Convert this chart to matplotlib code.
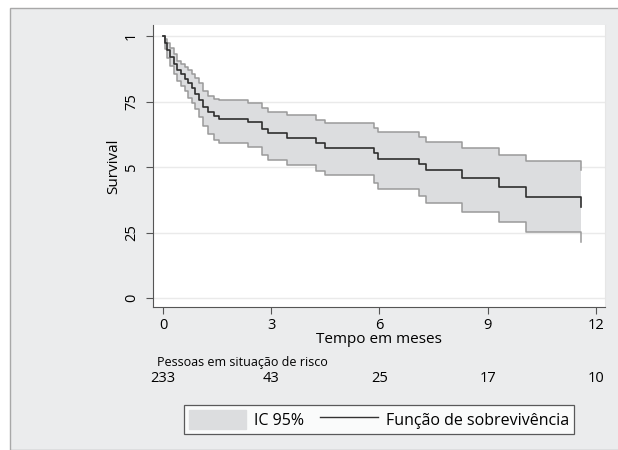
import matplotlib.pyplot as plt
from matplotlib.patches import Patch, Rectangle
from matplotlib.lines import Line2D

plt.rcParams['font.family'] = ['Open Sans', 'DejaVu Sans']

# Kaplan-Meier steps (time in months)
times = [0, 0.05, 0.11, 0.2, 0.3, 0.4, 0.5, 0.6, 0.7, 0.8, 0.9, 1.0, 1.1, 1.25,
         1.4, 1.55, 2.35, 2.75, 2.9, 3.45, 4.25, 4.5, 5.85, 5.95, 7.1, 7.3,
         8.3, 9.3, 10.05, 11.59]
survival = [1, 0.975, 0.947, 0.92, 0.895, 0.87, 0.855, 0.835, 0.82, 0.80, 0.78,
            0.755, 0.73, 0.71, 0.695, 0.683, 0.672, 0.645, 0.63, 0.61, 0.59,
            0.573, 0.553, 0.53, 0.51, 0.487, 0.458, 0.424, 0.386, 0.347]
upper = [1, 0.99, 0.975, 0.955, 0.93, 0.905, 0.895, 0.88, 0.87, 0.855, 0.84,
         0.82, 0.79, 0.77, 0.76, 0.756, 0.745, 0.725, 0.71, 0.698, 0.679,
         0.668, 0.649, 0.634, 0.615, 0.595, 0.573, 0.546, 0.523, 0.49]
lower = [1, 0.95, 0.915, 0.885, 0.855, 0.83, 0.81, 0.79, 0.765, 0.745, 0.72,
         0.69, 0.655, 0.625, 0.605, 0.592, 0.576, 0.546, 0.527, 0.508, 0.485,
         0.469, 0.44, 0.416, 0.39, 0.363, 0.328, 0.29, 0.252, 0.214]

x_ticks = [0, 3, 6, 9, 12]
y_ticks = [0, 0.25, 0.5, 0.75, 1]
y_tick_labels = ["0", "25", "5", "75", "1"]
at_risk = [233, 43, 25, 17, 10]

W, H = 618, 450
fig = plt.figure(figsize=(W / 100, H / 100), dpi=100, facecolor="white")

# grey Stata-like background with thin border
fig.patches.append(Rectangle((10 / W, 0), 1, 442 / H, transform=fig.transFigure,
                             facecolor="#ebeced", edgecolor="#a8a8a8", lw=1.0, zorder=-10))

ax = fig.add_axes([153 / W, (H - 307) / H, (605 - 153) / W, (307 - 25) / H])
ax.set_facecolor("white")

fill_col = "#dcdddf"
ax.fill_between(times, lower, upper, step="post", color=fill_col, lw=0, zorder=1)
ax.step(times, upper, where="post", color="#9a9a9a", lw=1.1, zorder=2)
ax.step(times, lower, where="post", color="#9a9a9a", lw=1.1, zorder=2)
ax.step(times, survival, where="post", color="#2e2e2e", lw=1.2, zorder=3)

ax.set_xlim(-0.277, 12.25)
ax.set_ylim(-0.034, 1.042)

ax.set_yticks(y_ticks)
ax.set_yticklabels(y_tick_labels, rotation=90, va="center", fontsize=10.5)
ax.set_xticks(x_ticks)
ax.set_xticklabels([str(v) for v in x_ticks], fontsize=10.5)
ax.yaxis.grid(True, color="#eaeaea", lw=1.0)
ax.set_axisbelow(True)
ax.tick_params(axis="both", direction="out", length=5, color="#555555", pad=3)
ax.tick_params(axis="y", pad=5)

ax.spines["top"].set_visible(False)
ax.spines["right"].set_color("#e6e6e6")
ax.spines["left"].set_color("#555555")
ax.spines["bottom"].set_color("#555555")

ax.set_ylabel("Survival", fontsize=11, labelpad=2)
ax.set_xlabel("Tempo em meses", fontsize=11, labelpad=-1)

# number at risk table
ax.text(-0.17, -0.244, "Pessoas em situação de risco", transform=ax.transData,
        fontsize=9, ha="left", va="center", clip_on=False)
for t, n in zip(x_ticks, at_risk):
    ax.text(t, -0.305, str(n), fontsize=10.5, ha="center", va="center", clip_on=False)

handles = [Patch(facecolor=fill_col, edgecolor=fill_col),
           Line2D([0], [0], color="#333333", lw=1.0)]
leg = fig.legend(handles, ["IC 95%", "Função de sobrevivência"], loc="center",
                 bbox_to_anchor=(379 / W, (H - 419.5) / H), ncol=2, fontsize=11.5,
                 frameon=True, fancybox=False, edgecolor="#333333",
                 handlelength=3.6, handleheight=1.5, columnspacing=1.0,
                 borderpad=0.3, handletextpad=0.5)
leg.get_frame().set_linewidth(0.9)

fig.savefig("out.png", dpi=100, facecolor="white")
